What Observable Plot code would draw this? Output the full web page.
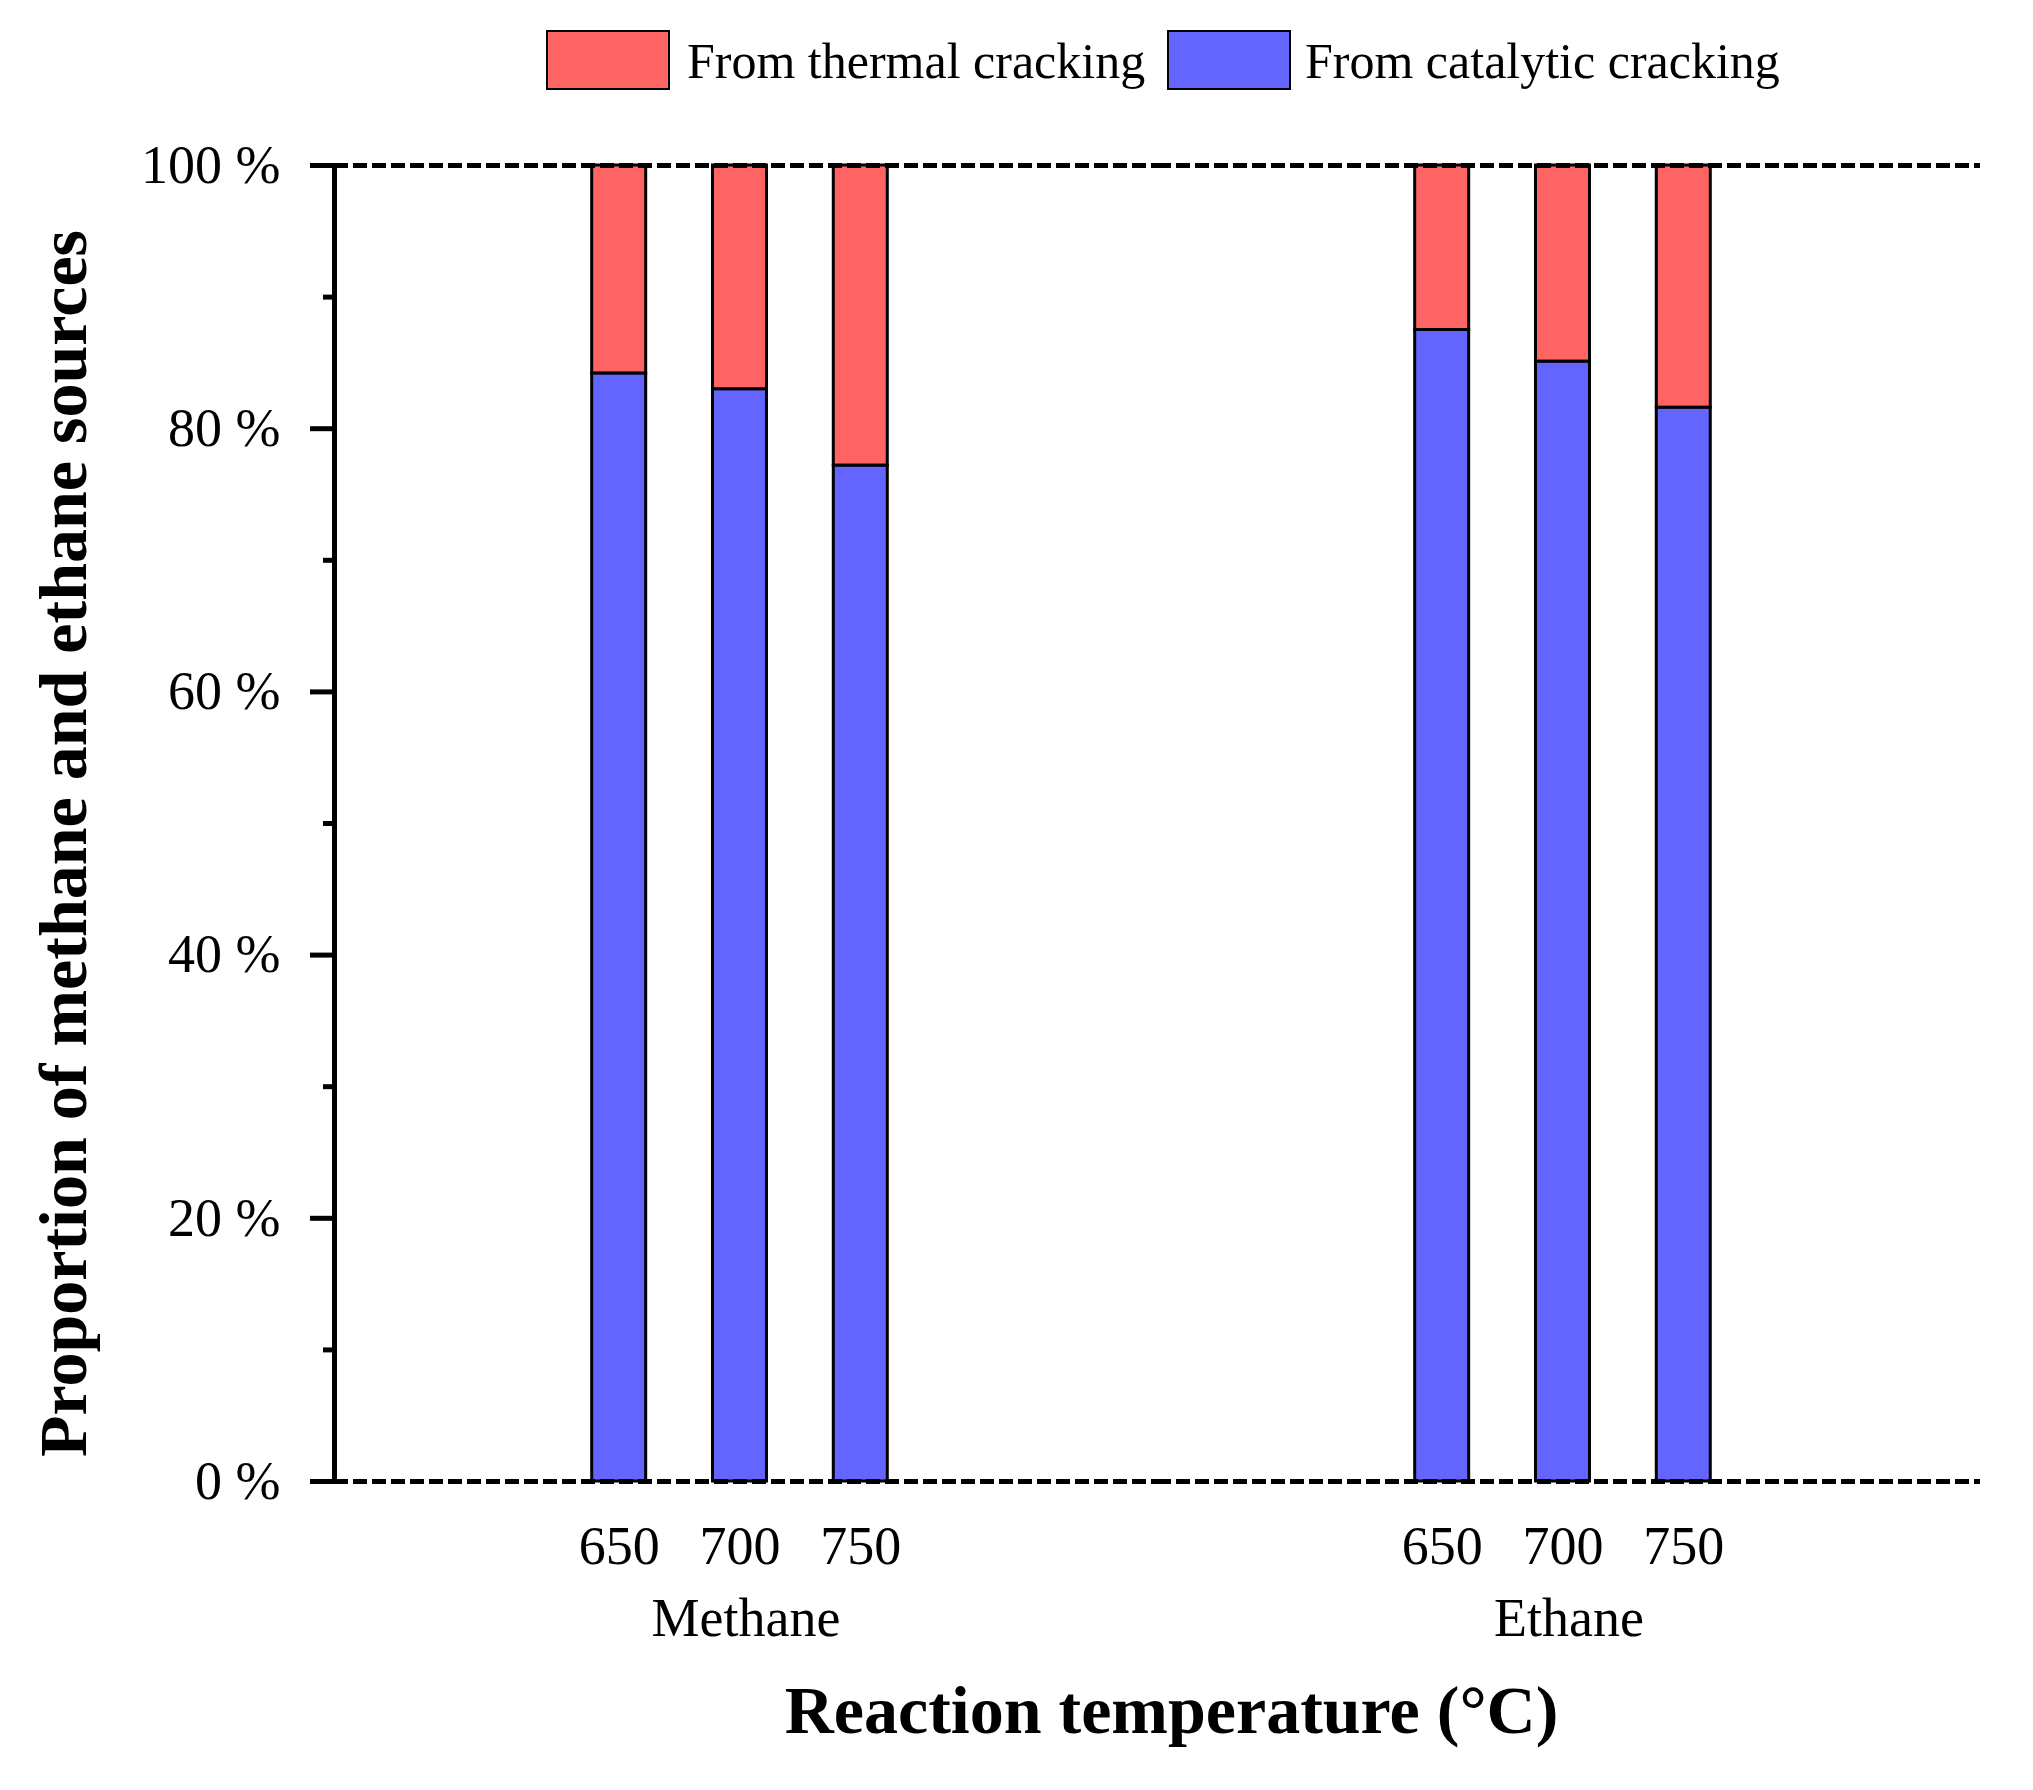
<!DOCTYPE html>
<html><head><meta charset="utf-8">
<script src="https://cdn.jsdelivr.net/npm/d3@7"></script>
<script src="https://cdn.jsdelivr.net/npm/@observablehq/plot@0.6"></script>
<style>
body{margin:0;background:#fff;font-family:"Liberation Serif","Times New Roman",serif;}
#wrap{position:relative;width:2033px;height:1790px;overflow:hidden;}
#legend{position:relative;width:2033px;height:120px;}
.sw{position:absolute;top:30px;width:120px;height:56px;border:2.5px solid #000;box-sizing:content-box;}
.lt{position:absolute;top:61px;transform:translateY(-50%);font-size:50px;line-height:1;color:#000;white-space:nowrap;}
#chart svg{display:block;}
</style></head>
<body><div id="wrap"><div id="legend"></div><div id="chart"></div></div>
<script>
const gases = ["Methane", "Ethane"];
const temperatures = ["650", "700", "750"];
const catalyticMethane = [84.2, 83.0, 77.2];
const catalyticEthane = [87.5, 85.1, 81.6];
const sources = ["From thermal cracking", "From catalytic cracking"];
const sourceColors = ["#FF6464", "#6464FF"];
const yTicks = [0, 20, 40, 60, 80, 100];
const yMinorTicks = [10, 30, 50, 70, 90];
const xTitle = "Reaction temperature (°C)";
const yTitle = "Proportion of methane and ethane sources";

const catalytic = {Methane: catalyticMethane, Ethane: catalyticEthane};
const data = gases.flatMap(gas => temperatures.flatMap((t, i) => [
  {gas, temp: t, source: sources[1], value: catalytic[gas][i]},
  {gas, temp: t, source: sources[0], value: 100 - catalytic[gas][i]}
]));

// legend
const legend = document.getElementById("legend");
const legendPos = [[546, 687], [1167, 1305]];
sources.forEach((s, i) => {
  const sw = document.createElement("div");
  sw.className = "sw"; sw.style.left = legendPos[i][0] + "px"; sw.style.background = sourceColors[i];
  const t = document.createElement("div");
  t.className = "lt"; t.style.left = legendPos[i][1] + "px"; t.textContent = s;
  legend.appendChild(sw); legend.appendChild(t);
});

const plot = Plot.plot({
  width: 2033, height: 1670,
  marginTop: 45, marginBottom: 309, marginLeft: 334, marginRight: 53,
  style: {fontFamily: '"Liberation Serif","Times New Roman",serif', color: "#000", background: "#fff", overflow: "visible"},
  fx: {domain: gases, padding: 0},
  x: {domain: temperatures, paddingInner: 0.553, paddingOuter: 2.183, align: 0.4886, round: false},
  y: {domain: [0, 100]},
  color: {domain: sources, range: sourceColors},
  marks: [
    Plot.barY(data, {fx: "gas", x: "temp", y: "value", fill: "source", stroke: "#000", strokeWidth: 3}),
    Plot.ruleY([0, 100], {stroke: "#000", strokeWidth: 5, strokeDasharray: "14,5"}),
    Plot.frame({anchor: "left", facetAnchor: "left", stroke: "#000", strokeWidth: 5}),
    Plot.axisY(yTicks, {tickSize: 24, tickPadding: 30, strokeWidth: 5, fontSize: 54, tickFormat: d => `${d} %`, label: null}),
    Plot.axisY(yMinorTicks, {tickSize: 11, strokeWidth: 5, tickFormat: () => "", label: null}),
    Plot.text([yTitle], {frameAnchor: "left", facetAnchor: "left", rotate: -90, lineAnchor: "top", textAnchor: "middle",
      dx: -297, dy: 20, fontSize: 68, fontWeight: "bold", fill: "#000"}),
    Plot.axisX({tickSize: 0, tickPadding: 44, fontSize: 54, label: null}),
    Plot.axisFx({anchor: "bottom", tickSize: 0, tickPadding: 116, fontSize: 54, label: null}),
    Plot.text([xTitle], {frameAnchor: "bottom-left", facetAnchor: "right", lineAnchor: "bottom", textAnchor: "middle",
      dx: 14, dy: 251, fontSize: 68, fontWeight: "bold", fill: "#000"})
  ]
});
document.getElementById("chart").appendChild(plot);
</script>
</body></html>
